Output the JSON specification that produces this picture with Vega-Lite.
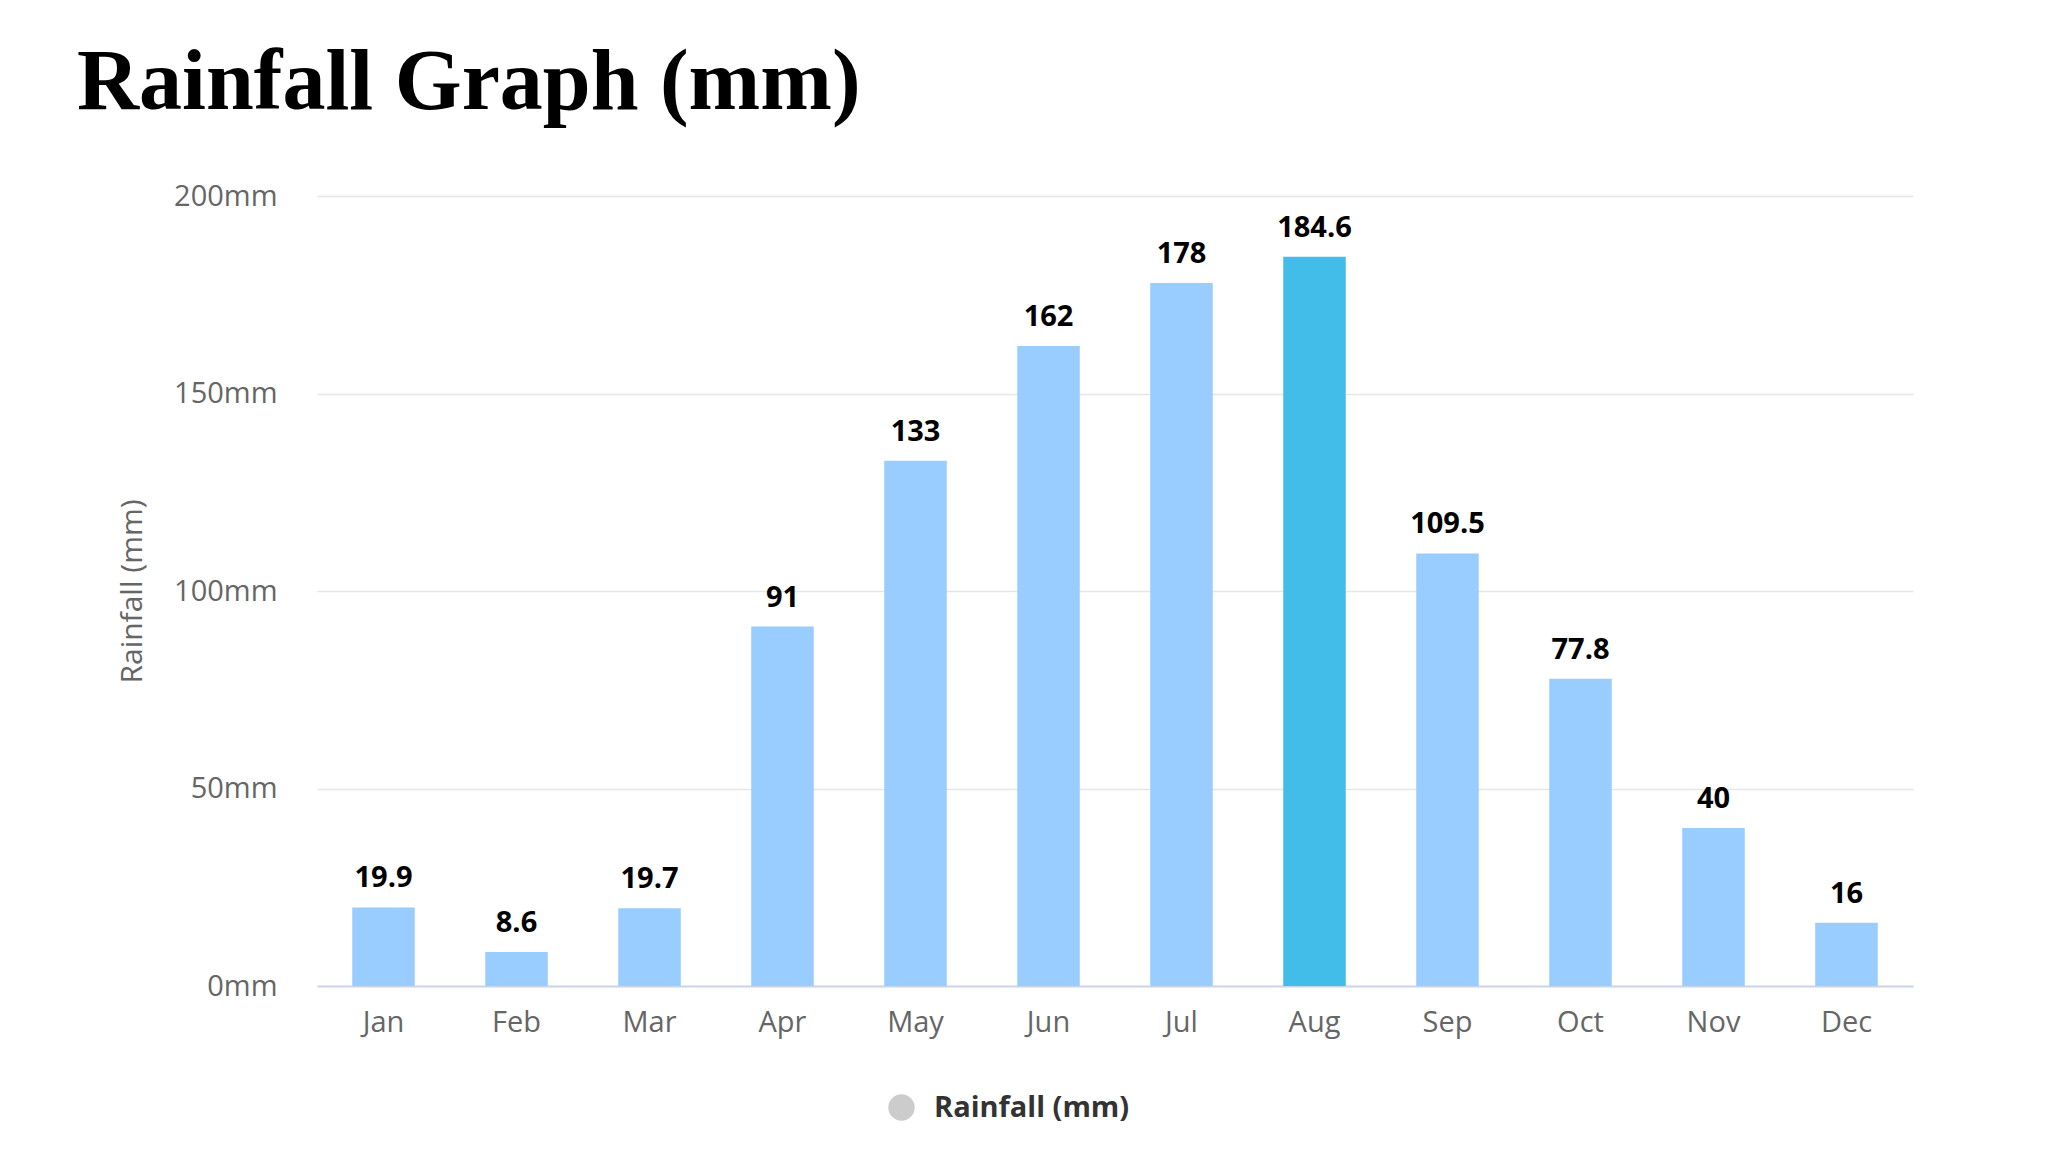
{
  "$schema": "https://vega.github.io/schema/vega-lite/v6.json",
  "width": 1596,
  "height": 790,
  "autosize": {"type": "none"},
  "padding": {"left": 317, "top": 196, "right": 135, "bottom": 166},
  "background": "white",
  "config": {
    "view": {"stroke": null},
    "font": "Open Sans"
  },
  "title": {
    "text": "Rainfall Graph (mm)",
    "anchor": "start",
    "frame": "group",
    "font": "Liberation Serif",
    "fontSize": 86,
    "fontWeight": "bold",
    "color": "#000000",
    "baseline": "alphabetic",
    "dx": -240,
    "dy": 83,
    "offset": 70
  },
  "data": {
    "values": [
      {"month": "Jan", "rain": 19.9, "series": "Rainfall (mm)"},
      {"month": "Feb", "rain": 8.6, "series": "Rainfall (mm)"},
      {"month": "Mar", "rain": 19.7, "series": "Rainfall (mm)"},
      {"month": "Apr", "rain": 91, "series": "Rainfall (mm)"},
      {"month": "May", "rain": 133, "series": "Rainfall (mm)"},
      {"month": "Jun", "rain": 162, "series": "Rainfall (mm)"},
      {"month": "Jul", "rain": 178, "series": "Rainfall (mm)"},
      {"month": "Aug", "rain": 184.6, "series": "Rainfall (mm)"},
      {"month": "Sep", "rain": 109.5, "series": "Rainfall (mm)"},
      {"month": "Oct", "rain": 77.8, "series": "Rainfall (mm)"},
      {"month": "Nov", "rain": 40, "series": "Rainfall (mm)"},
      {"month": "Dec", "rain": 16, "series": "Rainfall (mm)"}
    ]
  },
  "encoding": {
    "x": {
      "field": "month",
      "type": "nominal",
      "sort": null,
      "scale": {"paddingInner": 0.53, "paddingOuter": 0.265},
      "axis": {
        "title": null,
        "labelAngle": 0,
        "labelFont": "Open Sans",
        "labelFontSize": 29,
        "labelColor": "#666666",
        "labelPadding": 22,
        "ticks": false,
        "tickSize": 0,
        "domainColor": "#ccd6eb",
        "domainWidth": 2,
        "grid": false
      }
    },
    "y": {
      "field": "rain",
      "type": "quantitative",
      "scale": {"domain": [0, 200], "nice": false},
      "axis": {
        "title": "Rainfall (mm)",
        "titleFont": "Open Sans",
        "titleFontSize": 30,
        "titleFontWeight": "normal",
        "titleColor": "#666666",
        "titleX": -185,
        "titleY": 395,
        "titleBaseline": "middle",
        "titleAngle": -90,
        "values": [0, 50, 100, 150, 200],
        "labelExpr": "datum.value + 'mm'",
        "labelFont": "Open Sans",
        "labelFontSize": 29,
        "labelColor": "#666666",
        "labelPadding": 40,
        "ticks": false,
        "tickSize": 0,
        "domain": false,
        "grid": true,
        "gridColor": "#e6e6e6",
        "gridWidth": 1.5
      }
    }
  },
  "layer": [
    {
      "mark": {"type": "bar"},
      "encoding": {
        "color": {
          "condition": {"test": "datum.month === 'Aug'", "value": "#42bde9"},
          "value": "#99ccff"
        }
      }
    },
    {
      "mark": {
        "type": "text",
        "baseline": "alphabetic",
        "dy": -20,
        "font": "Open Sans",
        "fontSize": 29,
        "fontWeight": "bold",
        "color": "#000000"
      },
      "encoding": {
        "text": {"field": "rain", "type": "quantitative"}
      }
    },
    {
      "transform": [{"filter": "datum.rain < 0"}],
      "mark": {"type": "point", "filled": true, "shape": "circle"},
      "encoding": {
        "color": {
          "field": "series",
          "type": "nominal",
          "scale": {"domain": ["Rainfall (mm)"], "range": ["#cccccc"]},
          "legend": {
            "title": null,
            "orient": "none",
            "legendX": 570,
            "legendY": 897,
            "direction": "horizontal",
            "symbolType": "circle",
            "symbolSize": 700,
            "symbolOpacity": 1,
            "labelFont": "Open Sans",
            "labelFontSize": 29,
            "labelFontWeight": "bold",
            "labelColor": "#333333",
            "labelOffset": 18,
            "labelLimit": 500
          }
        }
      }
    }
  ]
}
